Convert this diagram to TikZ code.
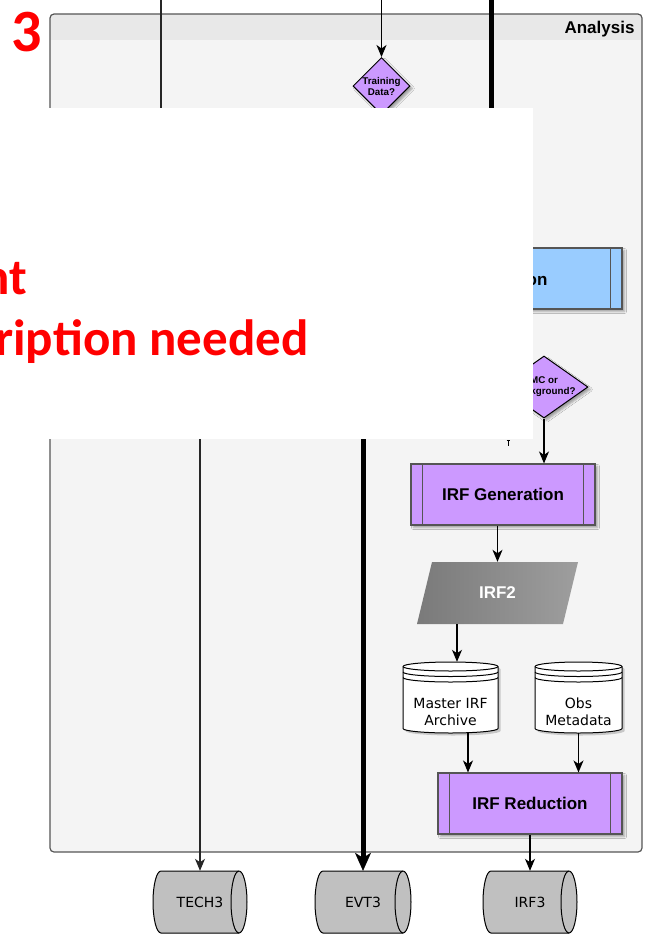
\documentclass[tikz,border=0pt]{standalone}
\usepackage{fontspec}
\setmainfont{Liberation Sans}
\newfontfamily\dejavu{DejaVu Sans}
\newfontfamily\carlito{Carlito}
\usetikzlibrary{arrows.meta,shapes.geometric,shadows.blur,calc}

\definecolor{panelfill}{HTML}{F4F4F4}
\definecolor{headfill}{HTML}{E8E8E8}
\definecolor{panelline}{HTML}{555555}
\definecolor{procpurple}{HTML}{CC99FF}
\definecolor{procblue}{HTML}{99CCFF}
\definecolor{storegray}{HTML}{C0C0C0}
\definecolor{dataleft}{HTML}{7A7A7A}
\definecolor{dataright}{HTML}{9E9E9E}
\definecolor{notered}{HTML}{FF0000}

% vertical data store: x1, x2, top, bottom
\newcommand\drawdatastore[4]{%
  \pgfmathsetmacro\dsrx{(#2-#1)/2}%
  \fill[black,opacity=0.18] ($(#1,#3+4.5)+(2.5,2.5)$) -- ($(#1,#4-4.5)+(2.5,2.5)$)
    arc[start angle=180,end angle=0,x radius=\dsrx,y radius=4.5]
    -- ($(#2,#3+4.5)+(2.5,2.5)$)
    arc[start angle=0,end angle=-180,x radius=\dsrx,y radius=4.5] -- cycle;
  \filldraw[fill=white,draw=black,line width=1pt] (#1,#3+4.5) -- (#1,#4-4.5)
    arc[start angle=180,end angle=0,x radius=\dsrx,y radius=4.5]
    -- (#2,#3+4.5)
    arc[start angle=0,end angle=-180,x radius=\dsrx,y radius=4.5] -- cycle;
  \draw[line width=1pt] (#1,#3+4.5) arc[start angle=180,end angle=0,x radius=\dsrx,y radius=4.5];
  \draw[line width=1pt] (#1,#3+10) arc[start angle=180,end angle=0,x radius=\dsrx,y radius=4.5];
  \draw[line width=1pt] (#1,#3+15.5) arc[start angle=180,end angle=0,x radius=\dsrx,y radius=4.5];
}
% horizontal cylinder: x1, x2, top, bottom
\newcommand\drawhcyl[4]{%
  \pgfmathsetmacro\hcry{(#4-#3)/2}%
  \filldraw[fill=storegray,draw=black,line width=1pt] (#1+8,#3) -- (#2-8,#3)
    arc[start angle=-90,end angle=90,x radius=8,y radius=\hcry]
    -- (#1+8,#4)
    arc[start angle=90,end angle=270,x radius=8,y radius=\hcry] -- cycle;
  \draw[line width=1pt] (#2-8,#3) arc[start angle=-90,end angle=-270,x radius=8,y radius=\hcry];
}

\begin{document}
\begin{tikzpicture}[x=1pt,y=-1pt,
  shadowed/.style={blur shadow={shadow xshift=2.5pt,shadow yshift=-2.5pt,
      shadow blur radius=2pt,shadow opacity=35}},
  procbox/.style={rectangle,draw=panelline,line width=1.1pt,fill=procpurple,
      minimum width=184,minimum height=61,inner sep=0pt,shadowed,
      font=\bfseries\fontsize{17}{20}\selectfont},
  decision/.style={diamond,draw=black,line width=1pt,fill=procpurple,
      inner sep=0pt,shadowed},
  decisiontext/.style={align=center,font=\bfseries\fontsize{9.8}{11}\selectfont},
  storetext/.style={align=center,font=\dejavu\fontsize{14}{17}\selectfont},
  anchorbox/.style={rectangle,inner sep=0pt},
  arr/.style={line width=1.2pt,-{Stealth[length=12pt,width=10pt,inset=3.5pt]}},
  bigarr/.style={line width=5pt,-{Stealth[length=18pt,width=16pt,inset=5pt,line width=0.5pt]}},
  notetext/.style={text=notered,font=\carlito\bfseries\fontsize{51}{51}\selectfont},
]
\useasboundingbox (0,0) rectangle (645,938);

% swimlane panel
\begin{scope}
  \clip[rounded corners=4pt] (50,14) rectangle (642,852);
  \fill[panelfill] (50,14) rectangle (642,852);
  \fill[headfill] (50,14) rectangle (642,40);
\end{scope}
\draw[panelline,line width=1.2pt,rounded corners=4pt] (50,14) rectangle (642,852);
\node[anchor=base east,font=\bfseries\fontsize{17}{20}\selectfont] (lanetitle) at (638,33) {Analysis};

% incoming flows from above
\coordinate (inTech) at (161,0);
\coordinate (inTrain) at (381.5,0);
\coordinate (inEvt) at (491,0);

% decisions and processes
\node[decision,minimum width=57,minimum height=57,
      label={[decisiontext]center:{Training\\Data?}}] (train) at (381.5,86) {};
\node[procbox,fill=procblue] (sel) at (530,278.5) {};
\draw[panelline,line width=1pt] ([xshift=-12pt]sel.north east) -- ([xshift=-12pt]sel.south east);
\node[anchor=base east,font=\bfseries\fontsize{17}{20}\selectfont] (seltext) at (551,285) {on};
\node[decision,minimum width=88,minimum height=62,
      label={[decisiontext]center:{MC or\\Background?}}] (mc) at (544,387) {};

\node[procbox] (gen) at (503,494.5) {IRF Generation};
\draw[panelline,line width=1pt] ([xshift=12pt]gen.north west) -- ([xshift=12pt]gen.south west)
  ([xshift=-12pt]gen.north east) -- ([xshift=-12pt]gen.south east);

% IRF2 data parallelogram
\shade[left color=dataleft,right color=dataright] (432,562) -- (578,562) -- (563,624) -- (417,624) -- cycle;
\node[anchorbox,minimum width=146,minimum height=62,text=white,
      font=\bfseries\fontsize{17}{20}\selectfont] (irf2) at (497.5,593) {IRF2};

% data stores
\drawdatastore{403}{498}{662}{733}
\node[anchorbox,minimum width=95,minimum height=71] (master) at (450.5,697.5) {};
\node[storetext] (mastertext) at (450.5,711.5) {Master IRF\\Archive};
\drawdatastore{535}{622}{662}{733}
\node[anchorbox,minimum width=87,minimum height=71] (obs) at (578.5,697.5) {};
\node[storetext] (obstext) at (578.5,711.5) {Obs\\Metadata};

\node[procbox] (red) at (530,803.5) {IRF Reduction};
\draw[panelline,line width=1pt] ([xshift=12pt]red.north west) -- ([xshift=12pt]red.south west)
  ([xshift=-12pt]red.north east) -- ([xshift=-12pt]red.south east);

% output cylinders
\drawhcyl{153}{247}{871}{933}
\node[anchorbox,minimum width=94,minimum height=62,font=\dejavu\fontsize{14}{17}\selectfont] (tech3) at (200,902) {TECH3};
\drawhcyl{315}{411}{871}{933}
\node[anchorbox,minimum width=96,minimum height=62,font=\dejavu\fontsize{14}{17}\selectfont] (evt3) at (363,902) {EVT3};
\drawhcyl{483}{577}{871}{933}
\node[anchorbox,minimum width=94,minimum height=62,font=\dejavu\fontsize{14}{17}\selectfont] (irf3) at (530,902) {IRF3};

% connectors
\draw[arr,draw=black!85] (inTech) -- ++(0,230) -| (tech3.north);
\draw[bigarr] (inEvt) -- ++(0,260) -| (evt3.north);
\draw[arr] (inTrain) -- (train.north);
\draw[arr] (mc.south) -- (mc.south |- gen.north);
\draw[arr] (irf2.north |- gen.south) -- (irf2.north);
\draw[arr] ([xshift=-40.5pt]irf2.south) -- ([xshift=-40.5pt]irf2.south |- master.north);
\draw[arr] ([xshift=17.5pt]master.south) -- ([xshift=17.5pt]master.south |- red.north);
\draw[arr] (obs.south) -- (obs.south |- red.north);
\draw[arr] (red.south) -- (irf3.north);

% small tick below the cover
\draw[line width=0.9pt] (506.5,440) -- (509.5,440) (508,440) -- (508,446);

% cover sheet with note
\fill[white] (0,108) rectangle (533,439);
\node[notetext,anchor=base east] (noteA) at (31,294) {nt};
\node[notetext,anchor=base east] (noteB) at (312,355) {ription needed};
\node[text=notered,font=\carlito\bfseries\fontsize{60}{60}\selectfont,anchor=base] (stage) at (27,51) {3};
\end{tikzpicture}
\end{document}
